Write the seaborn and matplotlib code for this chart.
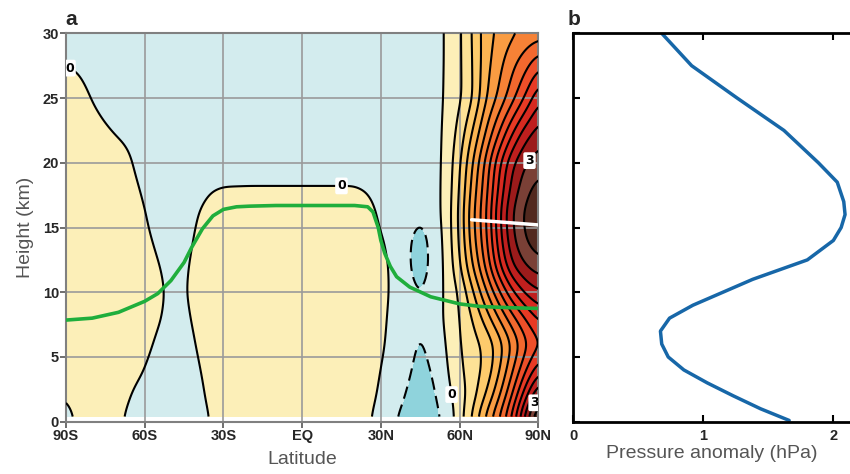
import numpy as np
import matplotlib
matplotlib.use('Agg')
import matplotlib.pyplot as plt
import seaborn as sns

# Panel a: zonal-mean anomaly table (rows = heights, cols = latitudes)
lats = [-90, -85, -80, -75, -70, -65, -60, -55, -50, -45, -40, -35, -30, -20, -10, 0,
        10, 20, 25, 30, 35, 40, 45, 50, 55, 60, 65, 70, 75, 80, 85, 90]
heights = [0.4, 2, 4, 6, 8, 10, 12, 14, 16, 18, 20, 22, 25, 28, 30]

# one list per latitude column, values from bottom (0.4 km) to top (30 km)
col_90s = [-0.08, 0.02, 0.1, 0.1, 0.1, 0.1, 0.1, 0.1, 0.1, 0.1, 0.1, 0.1, 0.1, -0.02, -0.1]
col_85s = [0.05, 0.1, 0.1, 0.1, 0.1, 0.1, 0.1, 0.1, 0.1, 0.1, 0.1, 0.1, 0.07, -0.04, -0.1]
col_80s = [0.1, 0.1, 0.1, 0.1, 0.1, 0.1, 0.1, 0.1, 0.1, 0.1, 0.1, 0.1, -0.01, -0.1, -0.1]
col_75s = [0.1, 0.1, 0.1, 0.1, 0.1, 0.1, 0.1, 0.1, 0.1, 0.1, 0.1, 0.04, -0.08, -0.1, -0.1]
col_70s = [0.03, 0.08, 0.1, 0.1, 0.1, 0.1, 0.1, 0.1, 0.1, 0.1, 0.1, -0.01, -0.1, -0.1, -0.1]
col_65s = [-0.05, -0.01, 0.05, 0.08, 0.1, 0.1, 0.1, 0.1, 0.1, 0.06, 0.01, -0.05, -0.1, -0.1, -0.1]
col_60s = [-0.1, -0.06, 0.0, 0.05, 0.08, 0.09, 0.07, 0.04, 0.01, -0.04, -0.1, -0.1, -0.1, -0.1, -0.1]
col_55s = [-0.1, -0.1, -0.08, -0.03, 0.02, 0.04, 0.01, -0.03, -0.08, -0.1, -0.1, -0.1, -0.1, -0.1, -0.1]
col_50s = [-0.1, -0.1, -0.1, -0.08, -0.05, -0.04, -0.05, -0.08, -0.1, -0.1, -0.1, -0.1, -0.1, -0.1, -0.1]
col_45s = [-0.1, -0.1, -0.09, -0.07, -0.04, -0.02, -0.03, -0.06, -0.1, -0.1, -0.1, -0.1, -0.1, -0.1, -0.1]
col_40s = [-0.1, -0.08, -0.03, 0.01, 0.04, 0.06, 0.05, 0.03, 0.0, -0.06, -0.1, -0.1, -0.1, -0.1, -0.1]
col_35s = [0.01, 0.06, 0.08, 0.1, 0.1, 0.1, 0.1, 0.1, 0.06, -0.01, -0.1, -0.1, -0.1, -0.1, -0.1]
col_30s = [0.1, 0.1, 0.1, 0.1, 0.1, 0.1, 0.1, 0.1, 0.1, 0.01, -0.1, -0.1, -0.1, -0.1, -0.1]
col_20s = [0.1, 0.1, 0.1, 0.1, 0.1, 0.1, 0.1, 0.1, 0.1, 0.015, -0.1, -0.1, -0.1, -0.1, -0.1]
col_10s = [0.1, 0.1, 0.1, 0.1, 0.1, 0.1, 0.1, 0.1, 0.1, 0.015, -0.1, -0.1, -0.1, -0.1, -0.1]
col_eq = [0.1, 0.1, 0.1, 0.1, 0.1, 0.1, 0.1, 0.1, 0.1, 0.015, -0.1, -0.1, -0.1, -0.1, -0.1]
col_10n = [0.1, 0.1, 0.1, 0.1, 0.1, 0.1, 0.1, 0.1, 0.1, 0.015, -0.1, -0.1, -0.1, -0.1, -0.1]
col_20n = [0.1, 0.1, 0.1, 0.1, 0.1, 0.1, 0.1, 0.1, 0.1, 0.015, -0.1, -0.1, -0.1, -0.1, -0.1]
col_25n = [0.03, 0.08, 0.1, 0.1, 0.1, 0.1, 0.1, 0.1, 0.1, -0.02, -0.1, -0.1, -0.1, -0.1, -0.1]
col_30n = [-0.08, -0.04, 0.0, 0.05, 0.07, 0.08, 0.07, 0.02, -0.05, -0.1, -0.1, -0.1, -0.1, -0.1, -0.1]
col_35n = [-0.24, -0.15, -0.12, -0.1, -0.08, -0.05, -0.05, -0.07, -0.1, -0.1, -0.1, -0.1, -0.1, -0.1, -0.1]
col_40n = [-0.32, -0.27, -0.2, -0.15, -0.12, -0.16, -0.21, -0.2, -0.13, -0.1, -0.1, -0.1, -0.1, -0.1, -0.1]
col_45n = [-0.42, -0.38, -0.34, -0.3, -0.22, -0.27, -0.38, -0.37, -0.22, -0.13, -0.1, -0.1, -0.1, -0.1, -0.1]
col_50n = [-0.34, -0.3, -0.23, -0.15, -0.1, -0.14, -0.18, -0.17, -0.11, -0.1, -0.1, -0.1, -0.1, -0.1, -0.1]
col_55n = [-0.18, -0.08, -0.03, 0.0, 0.03, 0.04, 0.05, 0.07, 0.08, 0.07, 0.06, 0.05, 0.03, 0.02, 0.02]
col_60n = [0.12, 0.12, 0.2, 0.24, 0.25, 0.27, 0.45, 0.52, 0.55, 0.5, 0.45, 0.35, 0.2, 0.2, 0.2]
col_65n = [0.55, 0.38, 0.38, 0.4, 0.5, 0.7, 1.0, 1.15, 1.2, 1.1, 1.0, 0.8, 0.47, 0.5, 0.52]
col_70n = [1.05, 0.75, 0.55, 0.55, 0.85, 1.2, 1.55, 1.68, 1.72, 1.65, 1.57, 1.3, 0.98, 0.9, 0.9]
col_75n = [1.5, 1.2, 0.95, 0.85, 1.25, 1.7, 2.2, 2.38, 2.45, 2.3, 2.2, 1.8, 1.3, 1.15, 1.05]
col_80n = [2.05, 1.75, 1.45, 1.25, 1.65, 2.2, 2.75, 2.95, 3.02, 2.85, 2.72, 2.3, 1.65, 1.4, 1.2]
col_85n = [2.85, 2.4, 1.95, 1.65, 2.0, 2.55, 3.0, 3.25, 3.3, 3.15, 3.0, 2.7, 2.02, 1.6, 1.3]
col_90n = [3.6, 3.05, 2.4, 1.95, 2.3, 2.72, 3.15, 3.42, 3.6, 3.35, 3.12, 2.92, 2.45, 1.85, 1.35]

columns = [col_90s, col_85s, col_80s, col_75s, col_70s, col_65s, col_60s, col_55s, col_50s,
           col_45s, col_40s, col_35s, col_30s, col_20s, col_10s, col_eq, col_10n, col_20n,
           col_25n, col_30n, col_35n, col_40n, col_45n, col_50n, col_55n, col_60n, col_65n,
           col_70n, col_75n, col_80n, col_85n, col_90n]

# tropopause (green line)
trop_lat = [-90, -80, -70, -60, -55, -50, -45, -42, -38, -34, -30, -25, -20, -10, 0, 10, 20,
            25, 27, 29, 30, 31.5, 33.6, 36, 41, 49, 60, 68, 80, 90]
trop_h = [7.85, 8.0, 8.45, 9.3, 9.9, 10.9, 12.3, 13.5, 14.9, 15.9, 16.4, 16.6, 16.65, 16.7,
          16.7, 16.7, 16.7, 16.6, 16.2, 15.0, 14.0, 13.0, 12.0, 11.2, 10.4, 9.65, 9.1, 8.9,
          8.8, 8.75]

# white marker segment
mark_lat = [64.6, 90]
mark_h = [15.6, 15.2]

# Panel b: pressure anomaly profile
prof_h = [0.1, 1, 2, 3, 4, 5, 6, 7, 8, 9, 10, 11, 12.5, 14, 15, 16, 17, 18.5, 20, 22.5, 25,
          27.5, 30]
prof_p = [1.66, 1.44, 1.23, 1.03, 0.85, 0.73, 0.68, 0.67, 0.74, 0.92, 1.15, 1.38, 1.80, 2.0,
          2.06, 2.09, 2.08, 2.03, 1.885, 1.62, 1.26, 0.91, 0.68]

lat_ticks = [-90, -60, -30, 0, 30, 60, 90]
lat_labels = ['90S', '60S', '30S', 'EQ', '30N', '60N', '90N']
h_ticks = [0, 5, 10, 15, 20, 25, 30]

fill_levels = [-1.0, -0.25] + [0.25 * i for i in range(16)]
fill_colors = ['#8fd3dc', '#d3ecee',
               '#fcefb8', '#fde296', '#fdcb6c', '#fbb452', '#f99c42', '#f68236', '#f2682e',
               '#ee4f29', '#e83a24', '#d82a20', '#bf1f1e', '#9c1b1b', '#7a4036', '#52291f',
               '#4a251c']
line_levels = [-0.25] + [0.25 * i for i in range(1, 15) if i != 12]
label_levels = [0, 3]


def smooth(a, sig, axis):
    # gaussian smoothing along one axis so the contours come out round
    n = int(3 * sig)
    k = np.exp(-0.5 * (np.arange(-n, n + 1) / sig) ** 2)
    k /= k.sum()
    pad = [(0, 0), (0, 0)]
    pad[axis] = (n, n)
    ap = np.pad(a, pad, mode='edge')
    return np.apply_along_axis(lambda v: np.convolve(v, k, mode='valid'), axis, ap)


# put the table on a fine grid for drawing
field = np.array(columns).T
lat_f = np.arange(-90, 90.01, 0.5)
h_f = np.arange(0.4, 30.01, 0.1)
rows = np.array([np.interp(lat_f, lats, r) for r in field])
grid = np.array([np.interp(h_f, heights, rows[:, j]) for j in range(rows.shape[1])]).T
grid = smooth(smooth(grid, 4, 1), 7, 0)

sns.set_theme(style='white')
tick_font = {'family': ['Liberation Sans', 'DejaVu Sans'], 'weight': 'bold', 'size': 10.5}
label_font = {'family': ['Liberation Sans', 'DejaVu Sans'], 'size': 14, 'color': '#555555'}

fig = plt.figure(figsize=(8.5, 4.74), dpi=100)
ax1 = fig.add_axes([0.0776, 0.1103, 0.5557, 0.8194])
ax2 = fig.add_axes([0.6745, 0.1103, 0.3255, 0.8194])

ax1.set_facecolor('white')
ax1.contourf(lat_f, h_f, grid, levels=fill_levels, colors=fill_colors, zorder=1)
ax1.contour(lat_f, h_f, grid, levels=line_levels, colors='black', linewidths=1.5,
            negative_linestyles=(0, (6, 3)), zorder=3)
cs0 = ax1.contour(lat_f, h_f, grid, levels=label_levels, colors='black', linewidths=1.5, zorder=3)
texts = ax1.clabel(cs0, fmt='%d', fontsize=9, inline=True, inline_spacing=2,
                   manual=[(-88, 27.6), (15, 18.2), (57, 2.1), (86.4, 20.2), (87.4, 1.6)])
for t in texts:
    t.set_rotation(0)
    t.set_fontweight('bold')
    t.set_bbox(dict(boxstyle='round,pad=0.15', facecolor='white', edgecolor='none'))

sns.lineplot(x=trop_lat, y=trop_h, ax=ax1, color='#1fae3c', lw=2.6, zorder=4, sort=False)
sns.lineplot(x=mark_lat, y=mark_h, ax=ax1, color='white', lw=2.5, zorder=4, sort=False)

ax1.set_xlim(-90, 90)
ax1.set_ylim(0, 30)
ax1.set_xticks(lat_ticks)
ax1.set_xticklabels(lat_labels, fontdict=tick_font)
ax1.set_yticks(h_ticks)
ax1.set_yticklabels([str(v) for v in h_ticks], fontdict=tick_font)
ax1.grid(True, color='#9a9a9a', lw=1.2)
ax1.set_axisbelow('line')
ax1.tick_params(direction='out', length=4, width=1.2, color='#555555', pad=1,
                bottom=True, left=True)
for sp in ax1.spines.values():
    sp.set_color('#808080')
    sp.set_linewidth(1.5)
ax1.set_xlabel('Latitude', fontdict=label_font, labelpad=6)
ax1.set_ylabel('Height (km)', fontdict=label_font, labelpad=6)

# panel b
sns.lineplot(x=prof_p, y=prof_h, ax=ax2, color='#1767a8', lw=2.5, sort=False, orient='y')
ax2.set_xlim(0, 2.128)
ax2.set_ylim(0, 30)
ax2.set_xticks([0, 1, 2])
ax2.set_xticklabels(['0', '1', '2'], fontdict=tick_font)
ax2.set_yticks(h_ticks)
ax2.set_yticklabels([])
ax2.tick_params(direction='in', length=5, width=1.5, color='black', pad=5,
                top=True, bottom=True, left=True, right=False)
for sp in ['left', 'top', 'bottom']:
    ax2.spines[sp].set_color('black')
    ax2.spines[sp].set_linewidth(2)
ax2.spines['right'].set_visible(False)
ax2.set_xlabel('Pressure anomaly (hPa)', fontdict=label_font, labelpad=2)

fig.text(0.077, 0.948, 'a', fontsize=15, fontweight='bold', family=['Liberation Sans', 'DejaVu Sans'])
fig.text(0.668, 0.948, 'b', fontsize=15, fontweight='bold', family=['Liberation Sans', 'DejaVu Sans'])

fig.savefig('out.png', dpi=100)
